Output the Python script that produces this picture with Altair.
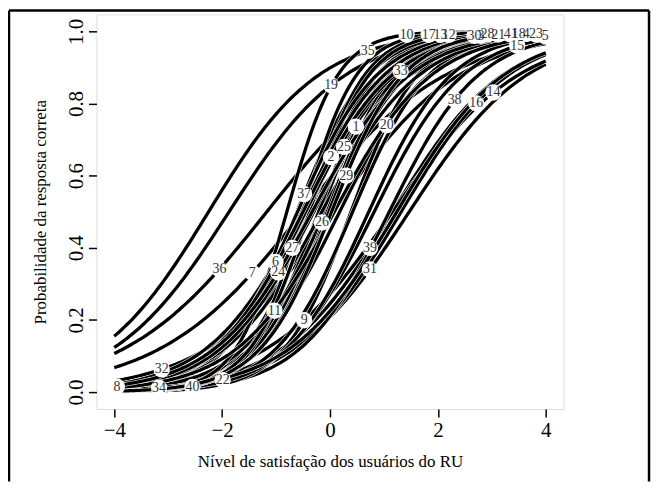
import numpy as np
import pandas as pd
import altair as alt

# Item numbers, discrimination (a) and difficulty (b)
items = [35, 19, 36, 7, 32, 31, 39, 14, 16, 38, 15, 20, 33, 1, 25, 2, 26, 37,
         24, 6, 11, 9, 22, 40, 34, 8, 10, 17, 13, 12, 30, 3, 28, 21, 41, 18,
         4, 23, 5, 27, 29]
a_vals = [0.97, 0.92, 0.75, 0.75, 0.85, 0.91, 0.97, 0.85, 1.00, 1.20, 1.20,
          1.20, 1.50, 1.60, 1.60, 1.60, 1.50, 1.50, 1.30, 1.10, 1.30, 1.60,
          1.40, 1.30, 1.00, 1.10, 2.10, 2.00, 1.90, 1.80, 1.60, 1.55, 1.35,
          1.30, 1.25, 1.20, 1.20, 1.15, 1.10, 1.10, 1.50]
b_vals = [-2.25, -1.87, -1.17, -0.50, 0.06, 1.47, 1.16, 1.16, 1.32, 1.10,
          0.82, 0.18, -0.08, -0.16, -0.21, -0.37, -0.07, -0.61, -0.42, -0.49,
          -0.08, 0.39, 0.42, 0.72, 1.24, -0.15, -0.80, -0.50, -0.40, -0.38,
          -0.05, -0.02, -0.60, -0.52, -0.45, -0.45, -0.50, -0.30, 0.08, -0.33,
          0.03]
# Position (on the ability scale) where each item's number is written
label_x = [0.70, 0.02, -2.05, -1.44, -3.12, 0.74, 0.74, 3.03, 2.71, 2.31,
           3.47, 1.05, 1.31, 0.48, 0.26, 0.02, -0.15, -0.48, -0.96, -1.01,
           -1.03, -0.48, -1.99, -2.55, -3.17, -3.95, 1.42, 1.83, 2.05, 2.20,
           2.68, 2.80, 2.92, 3.12, 3.35, 3.50, 3.64, 3.82, 3.99, -0.70, 0.30]

x_ticks = [-4, -2, 0, 2, 4]
y_ticks = [0.0, 0.2, 0.4, 0.6, 0.8, 1.0]

theta = np.round(np.linspace(-4, 4, 161), 3)
rows = []
for idx, (it, a, b) in enumerate(zip(items, a_vals, b_vals)):
    p = 1.0 / (1.0 + np.exp(-a * (theta - b)))
    for layer, col, w in (("0", "white", 4.4), ("1", "black", 3.3)):
        key = f"{idx:02d}{layer}"
        for t, v in zip(theta, p):
            rows.append({"theta": float(t), "p": float(v), "grp": key,
                         "col": col, "w": w})
curves = pd.DataFrame(rows)

lab = pd.DataFrame({
    "item": [str(i) for i in items],
    "theta": label_x,
    "p": [1.0 / (1.0 + np.exp(-a * (x - b))) for a, b, x in zip(a_vals, b_vals, label_x)],
})

FONT = "Liberation Serif"
xscale = alt.Scale(domain=[-4.33, 4.33], nice=False, zero=False)
yscale = alt.Scale(domain=[-0.047, 1.047], nice=False, zero=False)

lines = alt.Chart(curves).mark_line(interpolate="monotone").encode(
    x=alt.X("theta:Q", scale=xscale,
            axis=alt.Axis(values=x_ticks, format="d", title="Nível de satisfação dos usuários do RU",
                          domain=False, grid=False, tickSize=8, tickWidth=1.5, tickColor="black",
                          labelFont=FONT, labelFontSize=21, labelColor="black", labelPadding=3,
                          titleFont=FONT, titleFontSize=17, titleFontWeight="normal",
                          titleColor="black", titlePadding=13)),
    y=alt.Y("p:Q", scale=yscale,
            axis=alt.Axis(values=y_ticks, format=".1f", title="Probabilidade da resposta correta",
                          domain=False, grid=False, tickSize=8, tickWidth=1.5, tickColor="black",
                          labelFont=FONT, labelFontSize=21, labelColor="black", labelAngle=-90,
                          labelAlign="center", labelBaseline="bottom", labelPadding=2,
                          titleFont=FONT, titleFontSize=17, titleFontWeight="normal",
                          titleColor="black", titlePadding=16)),
    detail="grp:N",
    color=alt.Color("col:N", scale=None),
    strokeWidth=alt.StrokeWidth("w:Q", scale=None),
    order=alt.Order("theta:Q"),
)

circles = alt.Chart(lab).mark_point(filled=True, color="white", opacity=1, size=270, shape="circle").encode(
    x=alt.X("theta:Q", scale=xscale), y=alt.Y("p:Q", scale=yscale))

texts = alt.Chart(lab).mark_text(font=FONT, fontSize=14, color="#333333").encode(
    x=alt.X("theta:Q", scale=xscale), y=alt.Y("p:Q", scale=yscale), text="item:N")

one = pd.DataFrame({"k": [0]})
frame_left = alt.Chart(one).mark_rule(color="black", strokeWidth=2.5).encode(
    x=alt.value(-88), y=alt.value(-4), y2=alt.value(470))
frame_top = alt.Chart(one).mark_rule(color="black", strokeWidth=2.5).encode(
    x=alt.value(-88), x2=alt.value(556), y=alt.value(-4))
frame_right = alt.Chart(one).mark_rule(color="black", strokeWidth=2.5).encode(
    x=alt.value(556), y=alt.value(-4), y2=alt.value(470))

chart = alt.layer(lines, circles, texts, frame_left, frame_top, frame_right).properties(
    width=470, height=397,
    autosize=alt.AutoSizeParams(type="none"),
    padding={"left": 89, "top": 5, "right": 89, "bottom": 72},
).configure_view(stroke="black", strokeWidth=1.5).configure(background="white")

chart.save("out.html", embed_options={"renderer": "svg", "actions": False})
